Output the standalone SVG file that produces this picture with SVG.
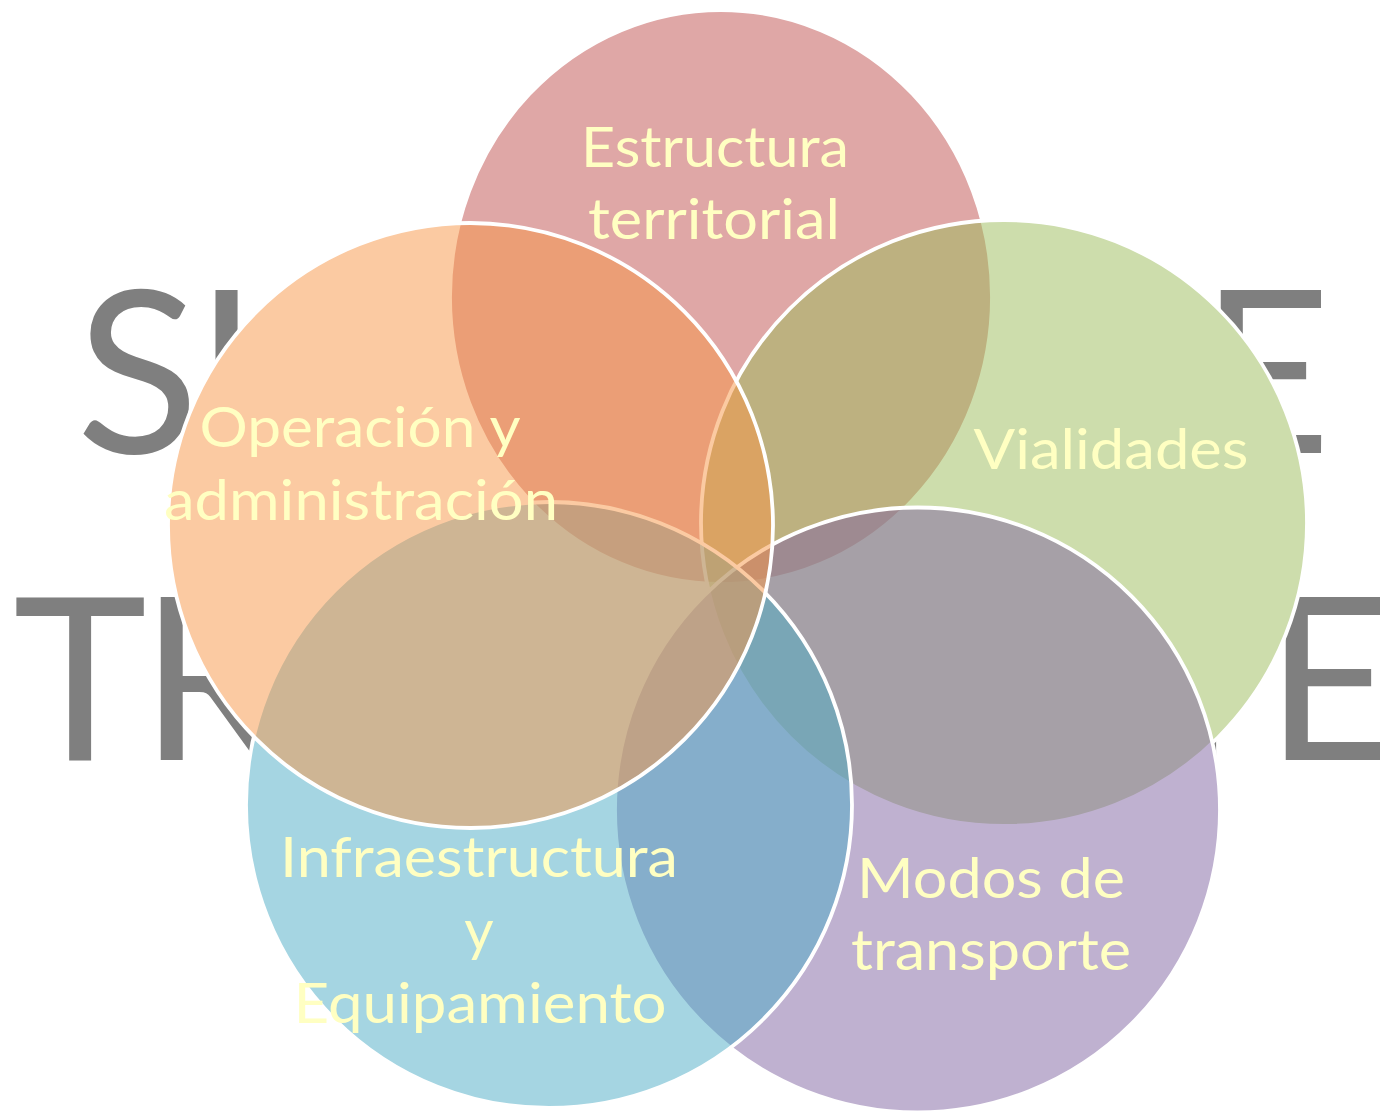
<svg xmlns="http://www.w3.org/2000/svg" width="1380" height="1111" viewBox="0 0 1380 1111">
<style>
.big{font-family:Lato,"Liberation Sans",sans-serif;font-size:227px;fill:#7f7f7f}
.c{stroke:#ffffff;stroke-width:3.8;fill-opacity:0.5}
.lbl{font-family:Lato,"Liberation Sans",sans-serif;font-size:57px;fill:#ffffc2;text-anchor:middle}
</style>
<rect width="1380" height="1111" fill="#ffffff"/>
<g id="title">
<text class="big" x="76" y="453" textLength="1255">SISTEMA DE</text>
<text class="big" x="13" y="760" textLength="1383">TRANSPORTE</text>
</g>
<g id="backing" fill="#ffffff">
<ellipse cx="721" cy="297" rx="271" ry="287"/>
<circle cx="1004" cy="523" r="303"/>
<circle cx="917.5" cy="810" r="302.5"/>
<circle cx="549" cy="805" r="303"/>
<circle cx="470.5" cy="525.5" r="302.5"/>
</g>
<g id="connectors"></g>
<g id="estructura">
<ellipse class="c" cx="721" cy="297" rx="271" ry="287" fill="#C0504D"/>
<text class="lbl" x="715" y="167" textLength="268" lengthAdjust="spacingAndGlyphs">Estructura</text>
<text class="lbl" x="714" y="239" textLength="252" lengthAdjust="spacingAndGlyphs">territorial</text>
</g>
<g id="vialidades">
<circle class="c" cx="1004" cy="523" r="303" fill="#9BBB59"/>
<text class="lbl" x="1111" y="469" textLength="275" lengthAdjust="spacingAndGlyphs">Vialidades</text>
</g>
<g id="modos">
<circle class="c" cx="917.5" cy="810" r="302.5" fill="#8064A2"/>
<text class="lbl" x="991" y="898" textLength="268" lengthAdjust="spacingAndGlyphs">Modos de</text>
<text class="lbl" x="991" y="970" textLength="280" lengthAdjust="spacingAndGlyphs">transporte</text>
</g>
<g id="infraestructura">
<circle class="c" cx="549" cy="805" r="303" fill="#4BACC6"/>
<text class="lbl" x="479" y="877" textLength="398" lengthAdjust="spacingAndGlyphs">Infraestructura</text>
<text class="lbl" x="479" y="950">y</text>
<text class="lbl" x="480" y="1023" textLength="373" lengthAdjust="spacingAndGlyphs">Equipamiento</text>
</g>
<g id="operacion">
<circle class="c" cx="470.5" cy="525.5" r="302.5" fill="#F79646"/>
<text class="lbl" x="360" y="447" textLength="321" lengthAdjust="spacingAndGlyphs">Operación y</text>
<text class="lbl" x="361" y="520" textLength="394" lengthAdjust="spacingAndGlyphs">administración</text>
</g>
</svg>
